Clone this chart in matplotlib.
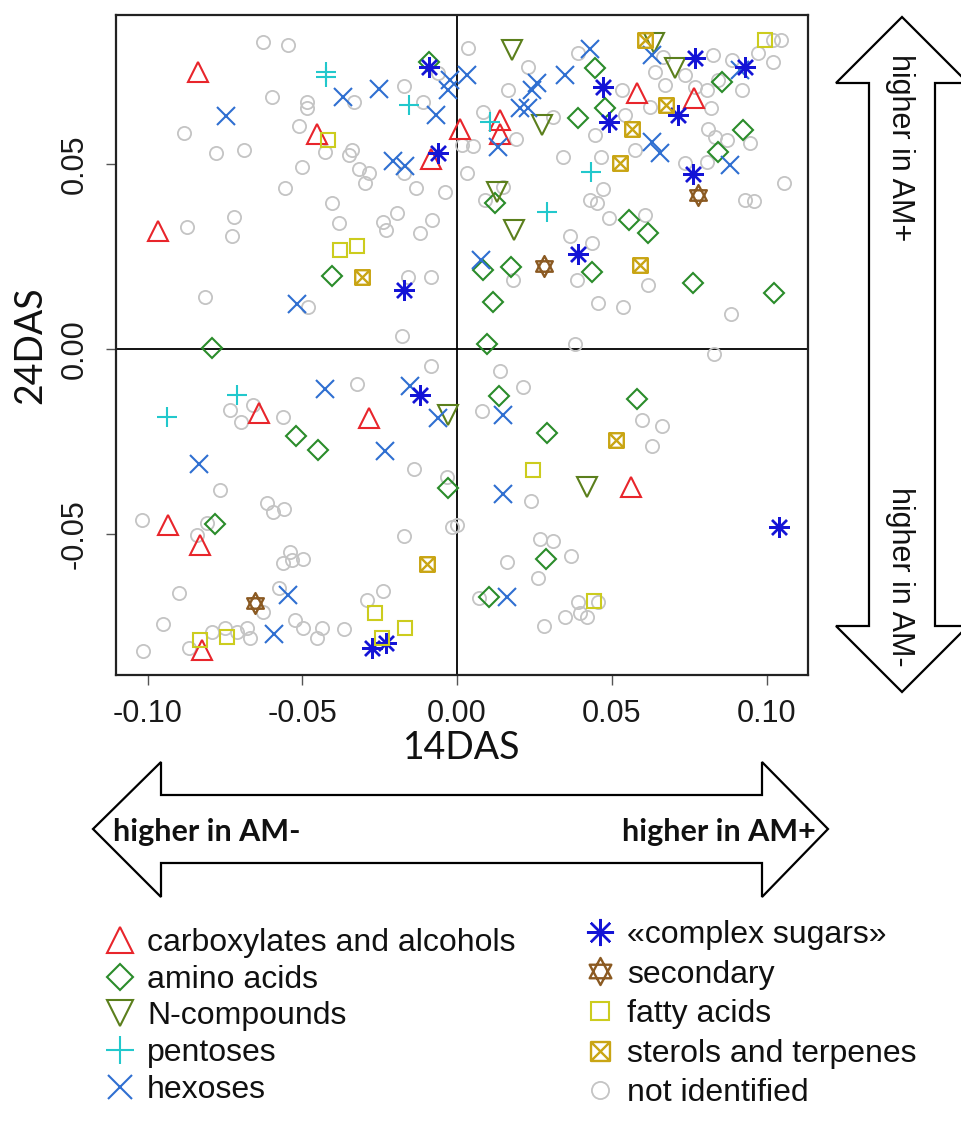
import matplotlib
matplotlib.use("Agg")
import matplotlib.pyplot as plt
from matplotlib.path import Path
from matplotlib.patches import Polygon

# ---------------- data ----------------
carbox_x = [-0.0836, -0.0453, -0.0084, -0.0965, 0.0010, 0.0581, 0.0767, 0.0139, 0.0139,
            -0.0640, -0.0283, -0.0933, -0.0830, -0.0825, 0.0561]
carbox_y = [0.0750, 0.0581, 0.0513, 0.0319, 0.0596, 0.0691, 0.0678, 0.0619, 0.0581,
            -0.0174, -0.0187, -0.0476, -0.0530, -0.0814, -0.0372]

amino_x = [-0.0090, -0.0405, -0.0793, 0.0446, 0.0478, 0.0392, 0.0925, 0.0855, 0.0844, 0.0123,
           0.0554, 0.0618, 0.0083, 0.0174, 0.0435, 0.0764, 0.1025, 0.0115, 0.0096, -0.0520,
           -0.0448, -0.0782, -0.0028, 0.0137, 0.0583, 0.0292, 0.0288, 0.0104]
amino_y = [0.0776, 0.0198, 0.0003, 0.0759, 0.0651, 0.0624, 0.0592, 0.0723, 0.0533, 0.0394,
           0.0349, 0.0314, 0.0214, 0.0222, 0.0209, 0.0178, 0.0151, 0.0126, 0.0015, -0.0234,
           -0.0273, -0.0473, -0.0375, -0.0127, -0.0135, -0.0228, -0.0568, -0.0671]

ncomp_x = [0.0177, 0.0274, 0.0704, 0.0638, 0.0128, 0.0185, -0.0028, 0.0421]
ncomp_y = [0.0808, 0.0605, 0.0759, 0.0826, 0.0425, 0.0322, -0.0178, -0.0372]

pent_x = [-0.0423, -0.0423, -0.0154, 0.0107, 0.0433, 0.0290, -0.0710, -0.0938]
pent_y = [0.0750, 0.0736, 0.0661, 0.0614, 0.0479, 0.0371, -0.0124, -0.0183]

hex_x = [-0.0746, -0.0367, -0.0251, -0.0068, -0.0023, -0.0028, -0.0206, -0.0168, -0.0518,
         0.0031, 0.0430, 0.0629, 0.0257, 0.0241, 0.0349, 0.0204, 0.0230, 0.0133, 0.0629,
         0.0656, 0.0882, 0.0078, 0.0914, -0.0427, -0.0152, -0.0060, -0.0833, -0.0233,
         -0.0545, -0.0590, 0.0150, 0.0148, 0.0163]
hex_y = [0.0630, 0.0682, 0.0703, 0.0634, 0.0727, 0.0700, 0.0508, 0.0495, 0.0121,
         0.0741, 0.0810, 0.0795, 0.0720, 0.0700, 0.0741, 0.0651, 0.0651, 0.0547, 0.0560,
         0.0529, 0.0497, 0.0241, 0.0754, -0.0109, -0.0099, -0.0186, -0.0311, -0.0276,
         -0.0666, -0.0771, -0.0178, -0.0393, -0.0669]

sugar_x = [-0.0090, -0.0060, -0.0171, 0.0769, 0.0931, 0.0473, 0.0715, 0.0491, 0.0764, 0.0392,
           -0.0120, -0.0274, -0.0229, 0.1041]
sugar_y = [0.0763, 0.0529, 0.0161, 0.0786, 0.0763, 0.0709, 0.0632, 0.0614, 0.0473, 0.0256,
           -0.0124, -0.0809, -0.0794, -0.0480]

sec_x = [0.0780, 0.0282, -0.0653]
sec_y = [0.0416, 0.0224, -0.0687]

fatty_x = [-0.0416, -0.0378, -0.0324, 0.0995, 0.0247, 0.0444, -0.0265, -0.0168, -0.0243,
           -0.0830, -0.0744]
fatty_y = [0.0565, 0.0269, 0.0278, 0.0835, -0.0327, -0.0681, -0.0714, -0.0753, -0.0782,
           -0.0786, -0.0777]

sterol_x = [-0.0306, 0.0607, 0.0675, 0.0566, 0.0527, 0.0592, -0.0098, 0.0514]
sterol_y = [0.0194, 0.0835, 0.0661, 0.0596, 0.0502, 0.0227, -0.0582, -0.0246]

ni_x = [-0.0628, -0.0545, -0.0599, -0.0484, -0.0486, -0.0332, -0.0171, -0.0109, -0.0882, -0.0510,
        -0.0779, -0.0690, -0.0427, -0.0349, -0.0340, -0.0502, -0.0316, -0.0283, -0.0297, -0.0171,
        -0.0132, -0.0039, -0.0556, -0.0405, -0.0873, -0.0720, -0.0726, -0.0380, -0.0240, -0.0229,
        -0.0193, -0.0120, -0.0080, -0.0159, -0.0085, -0.0814, -0.0482, -0.0179, -0.0060,
        0.0035, 0.0228, 0.0390, 0.0166, 0.0085, 0.0053, 0.0015, 0.0191, 0.0311, 0.0446,
        0.0343, 0.0031, 0.0464, 0.0532, 0.0543, 0.0575, 0.0624, 0.0640, 0.0672, 0.0667,
        0.0737, 0.0769, 0.0828, 0.0807, 0.0821, 0.0844, 0.0888, 0.0920, 0.0974, 0.1022,
        0.1047, 0.1020, 0.0810, 0.0834, 0.0871, 0.0947, 0.0737, 0.0807, 0.1055, 0.0931,
        0.0958, 0.0430, 0.0451, 0.0473, 0.0492, 0.0607, 0.0365, 0.0435, 0.0150, 0.0090,
        0.0180, 0.0387, 0.0618, 0.0455, 0.0535, 0.0885, 0.0381,
        -0.0085, -0.0324, -0.0733, -0.0658, -0.0699, -0.0561, -0.0139, -0.0033, -0.0766, -0.0615,
        -0.0594, -0.0559, -0.1017, -0.0809, -0.0839, -0.0017, -0.0171, -0.0540, -0.0534, -0.0561,
        -0.0497, -0.0900, -0.0574, -0.0626, -0.0292, -0.0238, -0.0949, -0.1016, -0.0865, -0.0793,
        -0.0750, -0.0710, -0.0680, -0.0669, -0.0523, -0.0497, -0.0451, -0.0437, -0.0364,
        0.0831, 0.0139, 0.0212, 0.0082, 0.0599, 0.0661, 0.0629, 0.0238, -0.0001, 0.0268,
        0.0309, 0.0161, 0.0368, 0.0263, 0.0071, 0.0390, 0.0457, 0.0349, 0.0397, 0.0419, 0.0282]
ni_y = [0.0831, 0.0822, 0.0680, 0.0668, 0.0651, 0.0668, 0.0711, 0.0668, 0.0585, 0.0603,
        0.0529, 0.0538, 0.0533, 0.0524, 0.0538, 0.0491, 0.0488, 0.0477, 0.0449, 0.0475,
        0.0436, 0.0425, 0.0436, 0.0396, 0.0331, 0.0358, 0.0305, 0.0340, 0.0344, 0.0323,
        0.0368, 0.0314, 0.0350, 0.0195, 0.0194, 0.0140, 0.0114, 0.0035, 0.0745,
        0.0813, 0.0763, 0.0799, 0.0700, 0.0641, 0.0549, 0.0551, 0.0569, 0.0628, 0.0578,
        0.0520, 0.0475, 0.0520, 0.0700, 0.0632, 0.0538, 0.0655, 0.0750, 0.0714, 0.0790,
        0.0741, 0.0709, 0.0795, 0.0700, 0.0651, 0.0727, 0.0781, 0.0700, 0.0799, 0.0835,
        0.0835, 0.0775, 0.0596, 0.0574, 0.0565, 0.0556, 0.0502, 0.0506, 0.0448, 0.0403,
        0.0401, 0.0403, 0.0394, 0.0434, 0.0353, 0.0362, 0.0305, 0.0286, 0.0439, 0.0403,
        0.0188, 0.0188, 0.0173, 0.0124, 0.0114, 0.0095, 0.0015,
        -0.0045, -0.0095, -0.0165, -0.0150, -0.0198, -0.0183, -0.0324, -0.0345, -0.0381, -0.0415,
        -0.0440, -0.0432, -0.0462, -0.0471, -0.0503, -0.0480, -0.0505, -0.0548, -0.0570, -0.0577,
        -0.0568, -0.0660, -0.0645, -0.0710, -0.0677, -0.0654, -0.0744, -0.0816, -0.0809, -0.0764,
        -0.0755, -0.0766, -0.0755, -0.0780, -0.0732, -0.0755, -0.0782, -0.0755, -0.0757,
        -0.0014, -0.0059, -0.0102, -0.0168, -0.0192, -0.0207, -0.0261, -0.0411, -0.0476, -0.0514,
        -0.0519, -0.0575, -0.0559, -0.0618, -0.0672, -0.0683, -0.0683, -0.0723, -0.0714, -0.0723, -0.0748]

xticks = [-0.10, -0.05, 0.00, 0.05, 0.10]
yticks = [-0.05, 0.00, 0.05]
xtick_labels = ["-0.10", "-0.05", "0.00", "0.05", "0.10"]
ytick_labels = ["-0.05", "0.00", "0.05"]

# ---------------- custom markers ----------------
star_david = Path(
    [(0, 1), (-0.8, -0.5), (0.8, -0.5), (0, 1),
     (0, -1), (-0.8, 0.5), (0.8, 0.5), (0, -1)],
    [Path.MOVETO, Path.LINETO, Path.LINETO, Path.CLOSEPOLY,
     Path.MOVETO, Path.LINETO, Path.LINETO, Path.CLOSEPOLY])
boxed_x = Path(
    [(-1, -1), (1, -1), (1, 1), (-1, 1), (-1, -1),
     (-1, -1), (1, 1), (-1, 1), (1, -1)],
    [Path.MOVETO, Path.LINETO, Path.LINETO, Path.LINETO, Path.CLOSEPOLY,
     Path.MOVETO, Path.LINETO, Path.MOVETO, Path.LINETO])

# ---------------- figure ----------------
W, H = 962, 1129
fig = plt.figure(figsize=(W / 100, H / 100), dpi=100)
fig.patch.set_facecolor("white")

ax = fig.add_axes([116 / W, 1 - 675 / H, 692 / W, 660 / H])
ax.set_xlim(-0.1102, 0.1134)
ax.set_ylim(-0.0881, 0.0903)

ax.axhline(0, color="black", lw=1.3, zorder=1)
ax.axvline(0, color="black", lw=1.3, zorder=1)

mew = 1.5
series = [
    ("not identified", ni_x, ni_y, "o", 9.5, "#c4c4c4", 1.3),
    ("carboxylates and alcohols", carbox_x, carbox_y, "^", 14, "#e8252b", mew),
    ("amino acids", amino_x, amino_y, "D", 10.5, "#2a8c2a", mew),
    ("N-compounds", ncomp_x, ncomp_y, "v", 14, "#5b7f1c", mew),
    ("pentoses", pent_x, pent_y, "+", 15, "#22c8cc", mew),
    ("hexoses", hex_x, hex_y, "x", 13, "#2f6fd1", mew),
    ("\u00abcomplex sugars\u00bb", sugar_x, sugar_y, (8, 2, 0), 15, "#1414d6", 1.7),
    ("secondary", sec_x, sec_y, star_david, 15, "#8b5a22", 1.7),
    ("fatty acids", fatty_x, fatty_y, "s", 10, "#cccc1e", mew),
    ("sterols and terpenes", sterol_x, sterol_y, boxed_x, 10.5, "#c9a514", 1.7),
]
handles = {}
for name, xs, ys, mk, ms, col, lw in series:
    (h,) = ax.plot(xs, ys, ls="none", marker=mk, ms=ms, mfc="none", mec=col,
                   mew=lw, label=name, zorder=3)
    handles[name] = h

for s in ax.spines.values():
    s.set_linewidth(1.6)
    s.set_color("#222222")

ax.set_xticks(xticks)
ax.set_xticklabels(xtick_labels)
ax.set_yticks(yticks)
ax.set_yticklabels(ytick_labels)
ax.tick_params(axis="both", direction="out", length=7, width=1.0, color="#555555",
               labelsize=22, labelcolor="#1a1a1a")
ax.tick_params(axis="x", pad=10)
ax.tick_params(axis="y", pad=12)
for lab in ax.get_xticklabels() + ax.get_yticklabels():
    lab.set_fontfamily("Liberation Sans")
for lab in ax.get_yticklabels():
    lab.set_rotation(90)
    lab.set_va("center")
    lab.set_ha("right")

ax.set_xlabel("14DAS", fontsize=27, family="Lato", color="#111111")
ax.set_ylabel("24DAS", fontsize=27, family="Lato", color="#111111")
ax.xaxis.set_label_coords(0.5, (675 - 748) / 660)
ax.xaxis.label.set_va("center")
ax.yaxis.set_label_coords((30 - 116) / 692, 0.5)
ax.yaxis.label.set_va("center")
ax.yaxis.label.set_ha("center")

# ---------------- overlay (pixel coordinates) for block arrows ----------------
ov = fig.add_axes([0, 0, 1, 1], zorder=-1)
ov.set_xlim(0, W)
ov.set_ylim(H, 0)
ov.axis("off")

harrow = [(93, 829), (161, 762), (161, 795), (762, 795), (762, 762), (828, 829),
          (762, 897), (762, 863), (161, 863), (161, 897)]
varrow = [(902, 17), (968, 83), (935, 83), (935, 626), (968, 626), (902, 692),
          (836, 626), (869, 626), (869, 83), (836, 83)]
for pts in (harrow, varrow):
    ov.add_patch(Polygon(pts, closed=True, facecolor="white", edgecolor="black",
                         lw=1.6, joinstyle="miter"))

ov.text(113, 832, "higher in AM-", fontsize=22, fontweight="bold", family="Lato",
        ha="left", va="center", color="#111111")
ov.text(622, 832, "higher in AM+", fontsize=22, fontweight="bold", family="Lato",
        ha="left", va="center", color="#111111")
ov.text(900, 148, "higher in AM+", fontsize=22, family="Liberation Sans", rotation=-90,
        ha="center", va="center", color="#111111")
ov.text(900, 577, "higher in AM-", fontsize=22, family="Liberation Sans", rotation=-90,
        ha="center", va="center", color="#111111")

# ---------------- legends ----------------
left_names = ["carboxylates and alcohols", "amino acids", "N-compounds", "pentoses", "hexoses"]
right_names = ["\u00abcomplex sugars\u00bb", "secondary", "fatty acids",
               "sterols and terpenes", "not identified"]
common = dict(frameon=False, borderpad=0, borderaxespad=0, handlelength=1.0,
              handletextpad=0.35, markerscale=1.3, loc="upper left",
              prop={"family": "Liberation Sans", "size": 23})
leg1 = fig.legend([handles[n] for n in left_names], left_names,
                  bbox_to_anchor=(104 / W, 1 - 928 / H), labelspacing=0.21, **common)
leg2 = fig.legend([handles[n] for n in right_names], right_names,
                  bbox_to_anchor=(584 / W, 1 - 920 / H), labelspacing=0.3, **common)
for lg in (leg1, leg2):
    for t in lg.get_texts():
        t.set_color("#111111")

fig.savefig("out.png", dpi=100, facecolor="white")
